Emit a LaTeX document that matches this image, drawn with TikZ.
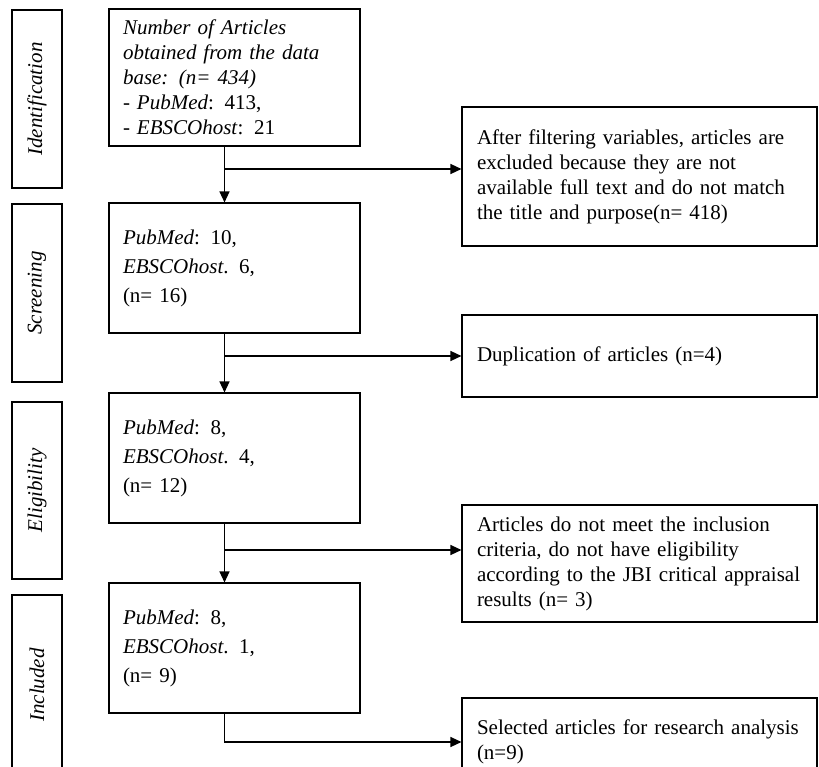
\documentclass[tikz,border=0pt]{standalone}
\usepackage{fontspec}
\setmainfont{Liberation Serif}
\usetikzlibrary{arrows.meta, positioning, calc}

\begin{document}
\begin{tikzpicture}[x=1pt, y=-1pt,
    phase/.style={draw, line width=1.1pt, rotate=90, minimum height=50pt, inner sep=0pt, font=\fontsize{21}{25}\selectfont\itshape},
    stage/.style={draw, line width=1.1pt, minimum width=251pt, minimum height=130pt, text width=223pt, inner xsep=14pt, align=left, font=\fontsize{21}{29}\selectfont},
    excl/.style={draw, line width=1.1pt, minimum width=355pt, text width=325pt, inner xsep=15pt, align=left, font=\fontsize{21}{25}\selectfont},
    arrow/.style={-{Triangle[length=11pt, width=10pt]}, line width=1.3pt}
]
\useasboundingbox (0,0) rectangle (819,767);

% Phase labels on the left
\node[phase, minimum width=178pt] (idlab) at (37,99) {Identification};
\node[phase, minimum width=178pt] (scrlab) at (37,293) {Screening};
\node[phase, minimum width=177pt] (elilab) at (37,490.5) {Eligibility};
\node[phase, minimum width=180pt] (inclab) at (37,685) {Included};

% Main column
\node[stage, minimum height=137pt, font=\fontsize{21}{25}\selectfont] (idbox) at (234.5,77.5)
    {\textit{Number of Articles\\obtained from the data\\base: (n= 434)}\\- \textit{PubMed}: 413,\\- \textit{EBSCOhost}: 21};
\node[stage] (scrbox) at (234.5,268) {\textit{PubMed}: 10,\\\textit{EBSCOhost}. 6,\\(n= 16)};
\node[stage] (elibox) at (234.5,458) {\textit{PubMed}: 8,\\\textit{EBSCOhost}. 4,\\(n= 12)};
\node[stage] (incbox) at (234.5,648) {\textit{PubMed}: 8,\\\textit{EBSCOhost}. 1,\\(n= 9)};

% Excluded / result boxes on the right
\node[excl, minimum height=139pt] (excl1) at (639.5,176.5)
    {After filtering variables, articles are\\excluded because they are not\\available full text and do not match\\the title and purpose(n= 418)};
\node[excl, minimum height=82pt] (excl2) at (639.5,356) {Duplication of articles (n=4)};
\node[excl, minimum height=117pt] (excl3) at (639.5,563.5)
    {Articles do not meet the inclusion\\criteria, do not have eligibility\\according to the JBI critical appraisal\\results (n= 3)};
\node[excl, minimum height=88pt] (sel) at (639.5,742)
    {Selected articles for research analysis\\(n=9)};

% Branch points
\coordinate (j1) at (224.5,169);
\coordinate (j2) at (224.5,356);
\coordinate (j3) at (224.5,550);

% Flow downwards
\draw[arrow] ([xshift=-10pt]idbox.south) -- ([xshift=-10pt]scrbox.north);
\draw[arrow] ([xshift=-10pt]scrbox.south) -- ([xshift=-10pt]elibox.north);
\draw[arrow] ([xshift=-10pt]elibox.south) -- ([xshift=-10pt]incbox.north);

% Flow to the right
\draw[arrow] (j1) -- (j1 -| excl1.west);
\draw[arrow] (j2) -- (j2 -| excl2.west);
\draw[arrow] (j3) -- (j3 -| excl3.west);
\draw[arrow] ([xshift=-10pt]incbox.south) |- (sel.west);

\end{tikzpicture}
\end{document}
